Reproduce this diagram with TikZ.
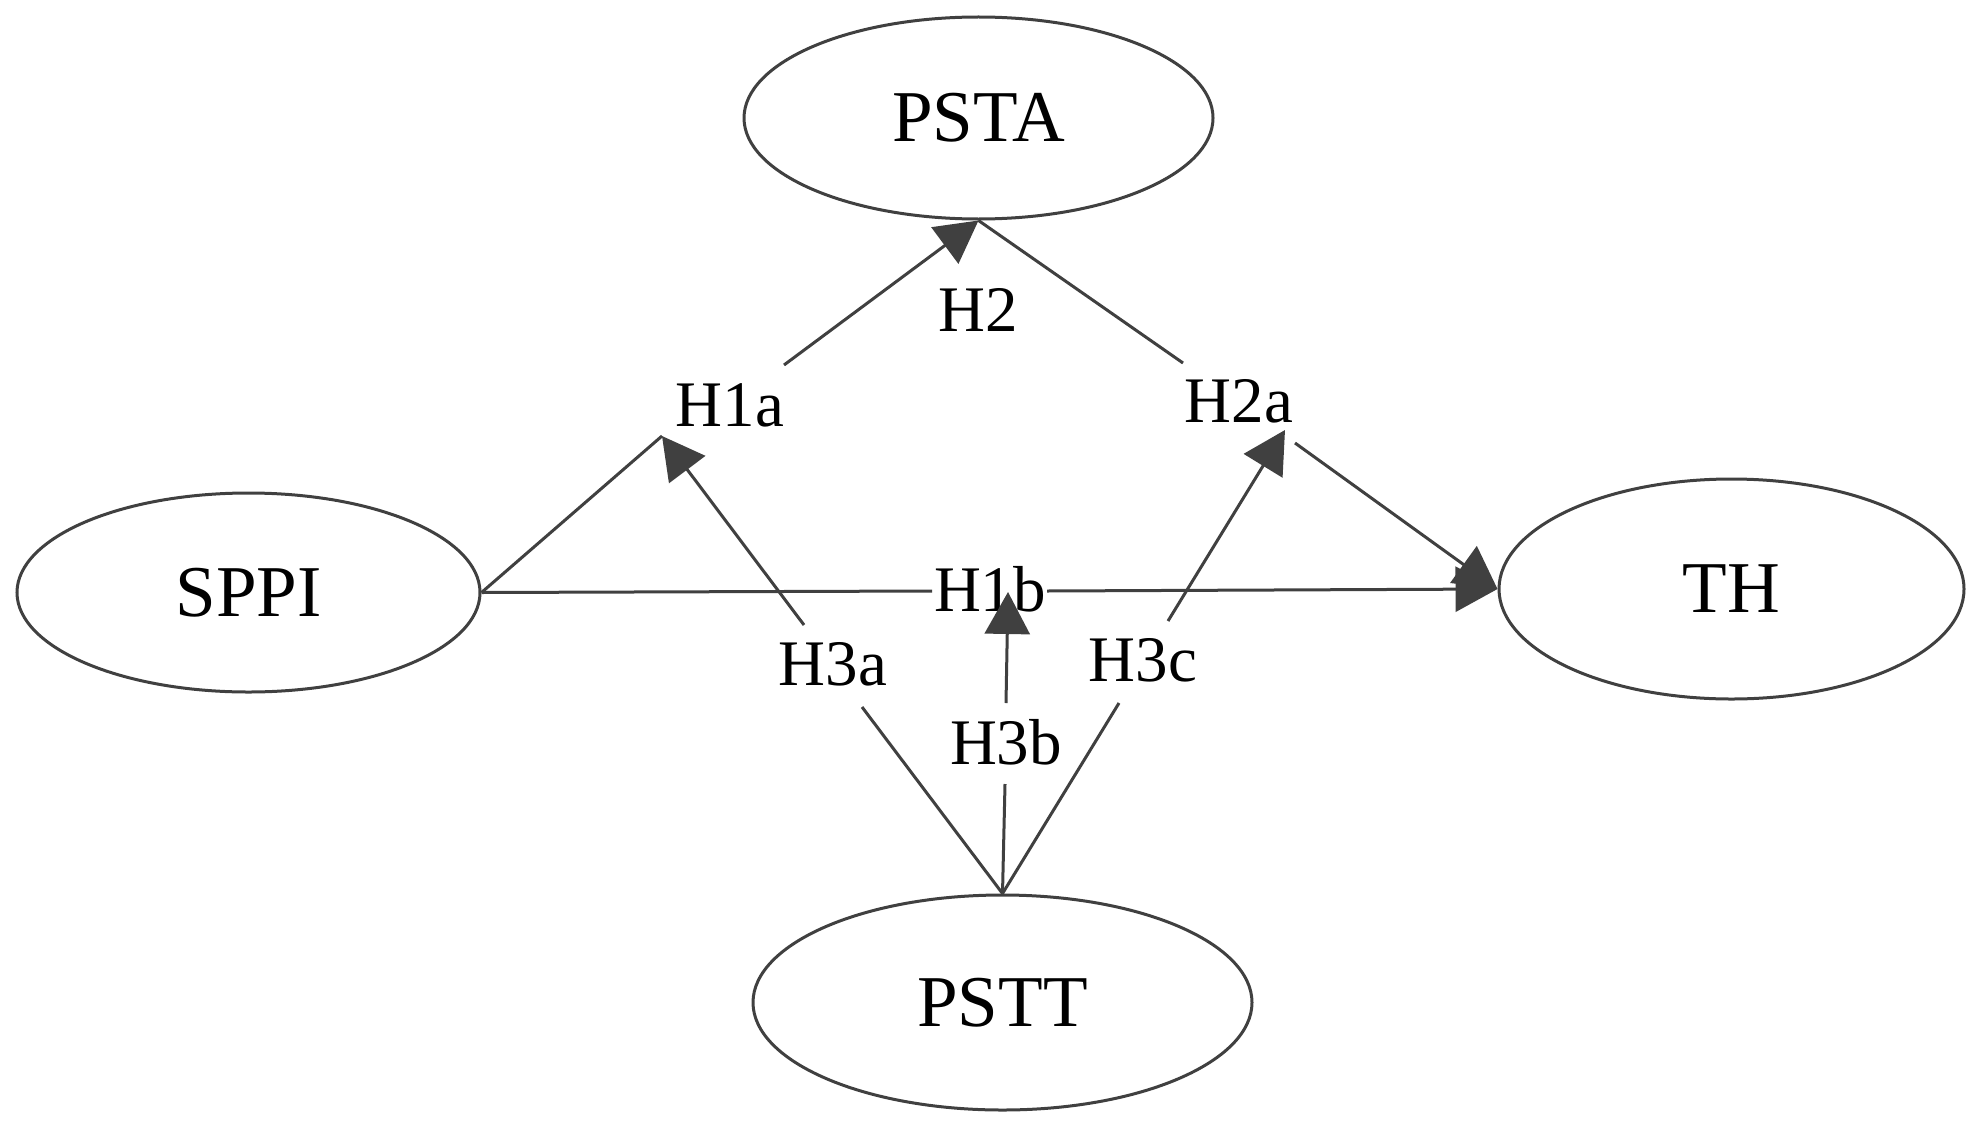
\documentclass[tikz,border=0pt]{standalone}
\usepackage{fontspec}
\setmainfont{Liberation Serif}
\usetikzlibrary{arrows.meta,shapes.geometric}
\definecolor{lc}{HTML}{404040}
\begin{document}
\begin{tikzpicture}[x=0.5pt,y=-0.5pt,
  ell/.style={ellipse,draw=lc,line width=1.5pt,inner sep=0pt,text=black,
    font=\fontsize{36.5}{40}\selectfont},
  lab/.style={inner sep=0pt,text=black,font=\fontsize{32.5}{36}\selectfont},
  ln/.style={draw=lc,line width=1.5pt},
  arr/.style={ln,-{Triangle[length=21pt,width=22.5pt]}}]
\useasboundingbox (0,0) rectangle (1984,1129);
% main constructs
\node[ell,minimum width=231.5pt,minimum height=99.5pt] (SPPI) at (248.5,592.5) {SPPI};
\node[ell,minimum width=234.5pt,minimum height=101pt] (PSTA) at (978.5,118) {PSTA};
\node[ell,minimum width=232.5pt,minimum height=110pt] (TH) at (1731.5,589) {TH};
\node[ell,minimum width=249.5pt,minimum height=107.5pt] (PSTT) at (1002.5,1002.5) {PSTT};
% hypothesis labels
\node[lab] (H2) at (978,310) {H2};
\node[lab] (H1a) at (730,405) {H1a};
\node[lab] (H2a) at (1239,401) {H2a};
\node[lab] (H1b) at (990,589) {H1b};
\node[lab] (H3a) at (833,664) {H3a};
\node[lab] (H3b) at (1006,742) {H3b};
\node[lab] (H3c) at (1143,660) {H3c};
% connector end points
\coordinate (h1aTip) at (662,436);
\coordinate (h1aTop) at (784,365);
\coordinate (h2aIn) at (1183,363);
\coordinate (h2aOut) at (1295,443);
\coordinate (h1bL) at (932,591);
\coordinate (h1bR) at (1047,591);
\coordinate (h3aTop) at (804,625);
\coordinate (h3aBot) at (862,707);
\coordinate (h3bBot) at (1005,784);
\coordinate (h3bTop) at (1006,703);
\coordinate (h1bTip) at (1008,592);
\coordinate (h3cBot) at (1119,703);
\coordinate (h3cTop) at (1168,621);
\coordinate (h2aTip) at (1285,430);
% connectors
\draw[ln] (SPPI.east) -- (h1aTip);
\draw[arr] (h1aTop) -- (PSTA.south);
\draw[ln] (PSTA.south) -- (h2aIn);
\draw[arr] (h2aOut) -- (TH.west);
\draw[ln] (SPPI.east) -- (h1bL);
\draw[arr] (h1bR) -- (TH.west);
\draw[ln] (PSTT.north) -- (h3aBot);
\draw[arr] (h3aTop) -- (h1aTip);
\draw[ln] (PSTT.north) -- (h3bBot);
\draw[arr] (h3bTop) -- (h1bTip);
\draw[ln] (PSTT.north) -- (h3cBot);
\draw[arr] (h3cTop) -- (h2aTip);
\end{tikzpicture}
\end{document}
